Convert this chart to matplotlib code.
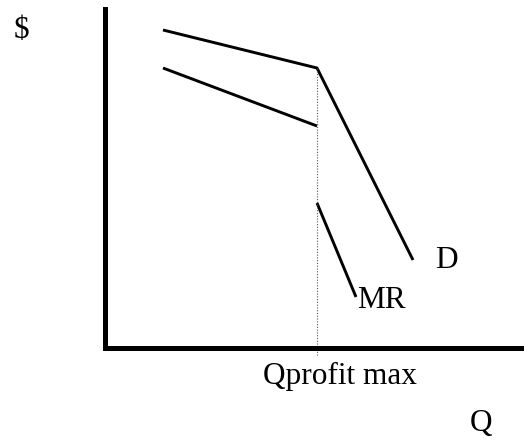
import matplotlib
matplotlib.use("Agg")
import matplotlib.pyplot as plt

# Kinked demand curve, units measured from the origin of the axes
demand_q = [58, 212, 308]
demand_p = [318, 280, 88]

mr_top_q = [58, 212]
mr_top_p = [280, 222]

mr_low_q = [212, 251]
mr_low_p = [145, 51]

q_profit_max = 212
kink_p = 280

plt.rcParams['font.family'] = ['Liberation Serif', 'DejaVu Serif']

fig = plt.figure(figsize=(5.24, 4.41), dpi=100)
W, H = 524, 441
ox, oy = 105, 348
ax = fig.add_axes([ox / W, (H - oy) / H, (W - ox) / W, (oy - 9) / H])
ax.set_xlim(0, W - ox)
ax.set_ylim(0, oy - 9)

for s in ['top', 'right']:
    ax.spines[s].set_visible(False)
for s in ['left', 'bottom']:
    ax.spines[s].set_linewidth(3.6)
    ax.spines[s].set_color('black')
ax.set_xticks([])
ax.set_yticks([])

ax.plot(demand_q, demand_p, color='black', lw=2.1, solid_capstyle='butt')
ax.plot(mr_top_q, mr_top_p, color='black', lw=2.1, solid_capstyle='butt')
ax.plot(mr_low_q, mr_low_p, color='black', lw=2.1, solid_capstyle='butt')

# dotted guide at the kink
ax.plot([q_profit_max, q_profit_max], [kink_p, -7], color='#555555', lw=0.8,
        linestyle=(0, (1, 1.5)), clip_on=False)

fs = 22.5
ax.text(341, 87, 'D', fontsize=fs, ha='center', va='center')
ax.text(252, 48, 'MR', fontsize=fs, ha='left', va='center')
ax.text(158, -36, 'Qprofit max', fontsize=fs, ha='left', va='baseline', clip_on=False)
ax.text(376, -75, 'Q', fontsize=fs, ha='center', va='center', clip_on=False)
ax.text(-84, 318, '$', fontsize=fs, ha='center', va='center', clip_on=False)

fig.savefig('out.png', dpi=100)
